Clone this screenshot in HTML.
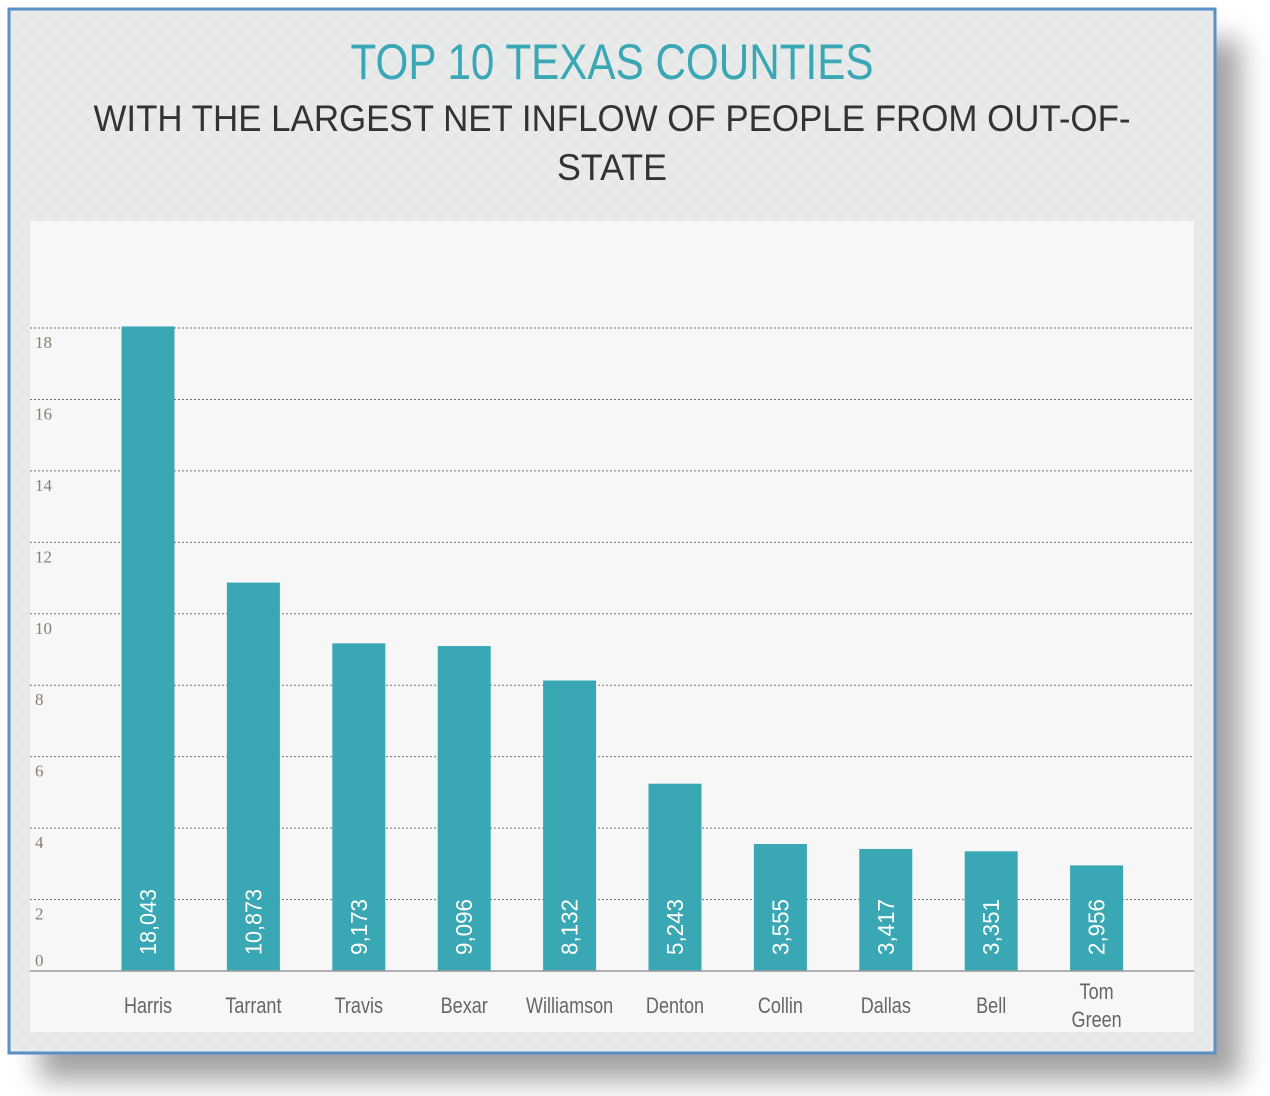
<!DOCTYPE html>
<html><head><meta charset="utf-8"><style>
html,body{margin:0;padding:0;background:#fff;width:1270px;height:1096px;overflow:hidden}
</style></head><body>
<svg id="chart" width="1270" height="1096" xmlns="http://www.w3.org/2000/svg">
<defs>
<filter id="sh" x="-10%" y="-10%" width="130%" height="130%"><feGaussianBlur stdDeviation="14"/></filter>
<pattern id="pat" width="16" height="16" patternUnits="userSpaceOnUse"><rect width="16" height="16" fill="#e9eaea"/><path d="M0 0L16 16M16 0L0 16" stroke="#e1e2e2" stroke-width="1"/></pattern>
</defs>
<rect x="40" y="40" width="1200" height="1040" fill="#555" opacity="0.55" filter="url(#sh)"/>
<rect x="9" y="9" width="1206" height="1044" fill="url(#pat)" stroke="#5b8fc7" stroke-width="3"/>
<text x="612" y="79" text-anchor="middle" font-family="Liberation Sans, sans-serif" font-size="50" fill="#3aa7b5" textLength="523" lengthAdjust="spacingAndGlyphs">TOP 10 TEXAS COUNTIES</text>
<text x="612" y="131" text-anchor="middle" font-family="Liberation Sans, sans-serif" font-size="37" fill="#333" textLength="1037" lengthAdjust="spacingAndGlyphs">WITH THE LARGEST NET INFLOW OF PEOPLE FROM OUT-OF-</text>
<text x="612" y="180" text-anchor="middle" font-family="Liberation Sans, sans-serif" font-size="37" fill="#333" textLength="110" lengthAdjust="spacingAndGlyphs">STATE</text>
<rect x="30" y="221" width="1164" height="811" fill="#f7f7f7"/>
<g id="grid"></g><g id="bars"></g><g id="labels"></g>
<line x1="30" x2="1194" y1="971" y2="971" stroke="#999" stroke-width="1.5"/>
</svg>
<script>
const categories=["Harris","Tarrant","Travis","Bexar","Williamson","Denton","Collin","Dallas","Bell","Tom Green"];
const values=[18043,10873,9173,9096,8132,5243,3555,3417,3351,2956];
const valueLabels=["18,043","10,873","9,173","9,096","8,132","5,243","3,555","3,417","3,351","2,956"];
const yTicks=[0,2,4,6,8,10,12,14,16,18];
const NS="http://www.w3.org/2000/svg";
const y0=971,pxPer=(971-328)/18;
function y(v){return y0-v*pxPer;}
function x(i){return 148+i*105.4;}
function mk(t,a,p,txt){const e=document.createElementNS(NS,t);for(const k in a)e.setAttribute(k,a[k]);if(txt!=null)e.textContent=txt;p.appendChild(e);return e;}
const g=document.getElementById('grid'),b=document.getElementById('bars'),l=document.getElementById('labels');
yTicks.forEach(t=>{
 if(t>0){const ln=mk('line',{x1:30,x2:1194,y1:y(t),y2:y(t),stroke:'#777','stroke-width':1,'stroke-dasharray':'2,2'},g);
 
 }
 const tx=mk('text',{x:35,y:t===0?966:y(t)+20,'font-family':'Liberation Serif, serif','font-size':17,fill:'#8a7d6e'},g,String(t));
 
 
});
categories.forEach((c,i)=>{
 const v=values[i]/1000;
 const r=mk('rect',{x:x(i)-26.5,y:y(v),width:53,height:y0-y(v),fill:'#3aa7b5'},b);
 
 
 const vt=mk('text',{x:0,y:0,transform:`translate(${x(i)+8},955) rotate(-90)`,'font-family':'Liberation Sans, sans-serif','font-size':23,fill:'#fff',textLength:valueLabels[i].length>5?66:56,lengthAdjust:'spacingAndGlyphs'},b,valueLabels[i]);
 
 
 const parts=c.split(' ');
 if(parts.length===1){
  const lt=mk('text',{x:x(i),y:1013,'text-anchor':'middle','font-family':'Liberation Sans, sans-serif','font-size':22,fill:'#666',transform:`translate(${x(i)*0.18},0) scale(0.82,1)`},l,c);
  
  
 } else {
  parts.forEach((p,j)=>{
   const lt=mk('text',{x:x(i),y:999+j*28,'text-anchor':'middle','font-family':'Liberation Sans, sans-serif','font-size':22,fill:'#666',transform:`translate(${x(i)*0.18},0) scale(0.82,1)`},l,p);
   
   
  });
 }
});
</script>
</body></html>
